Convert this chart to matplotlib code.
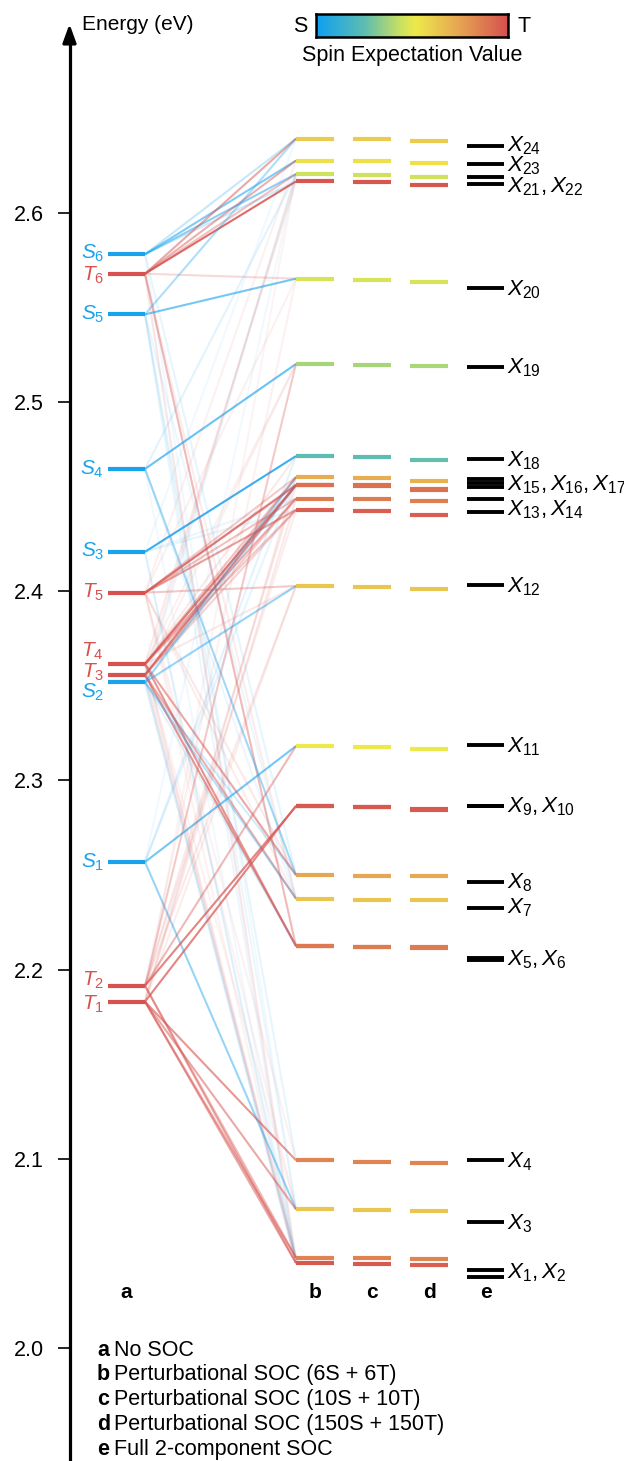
import numpy as np
import matplotlib
import matplotlib.pyplot as plt
from matplotlib.colors import LinearSegmentedColormap

matplotlib.use('agg')

plt.rcParams['font.family'] = ['Liberation Sans', 'DejaVu Sans']
plt.rcParams['mathtext.fontset'] = 'custom'
plt.rcParams['mathtext.it'] = 'Liberation Sans:italic'
plt.rcParams['mathtext.rm'] = 'Liberation Sans'
plt.rcParams['mathtext.bf'] = 'Liberation Sans:bold'

# no-SOC states (eV)
singlet_names = ['S1', 'S2', 'S3', 'S4', 'S5', 'S6']
singlet_energies = [2.2569, 2.3519, 2.4209, 2.4647, 2.5464, 2.5782]
triplet_names = ['T1', 'T2', 'T3', 'T4', 'T5', 'T6']
triplet_energies = [2.1831, 2.1915, 2.3558, 2.3616, 2.3993, 2.5679]

# mixed states X1..X24, perturbational SOC (6S + 6T)
pert6_energies = [2.0449, 2.0477, 2.0733, 2.0992, 2.2123, 2.2127, 2.2375, 2.2500,
                  2.2863, 2.2867, 2.3182, 2.4028, 2.4430, 2.4490, 2.4560, 2.4564,
                  2.4604, 2.4715, 2.5202, 2.5653, 2.6167, 2.6206, 2.6277, 2.6393]
pert6_spin = [0.97, 0.85, 0.64, 0.84, 0.88, 0.88, 0.64, 0.74, 0.97, 0.97, 0.52, 0.64,
              0.96, 0.87, 0.90, 0.90, 0.72, 0.25, 0.38, 0.47, 0.98, 0.45, 0.55, 0.62]
# perturbational SOC (10S + 10T)
pert10_energies = [2.0444, 2.0474, 2.0728, 2.0983, 2.2118, 2.2122, 2.2370, 2.2497,
                   2.2858, 2.2862, 2.3179, 2.4024, 2.4425, 2.4486, 2.4556, 2.4560,
                   2.4601, 2.4712, 2.5197, 2.5644, 2.6164, 2.6202, 2.6275, 2.6390]
pert10_spin = [0.97, 0.85, 0.64, 0.84, 0.87, 0.87, 0.64, 0.74, 0.97, 0.97, 0.52, 0.64,
               0.96, 0.87, 0.90, 0.90, 0.72, 0.25, 0.38, 0.47, 0.98, 0.45, 0.55, 0.62]
# perturbational SOC (150S + 150T)
pert150_energies = [2.0439, 2.0469, 2.0724, 2.0978, 2.2114, 2.2118, 2.2367, 2.2495,
                    2.2844, 2.2848, 2.3165, 2.4012, 2.4405, 2.4477, 2.4537, 2.4541,
                    2.4585, 2.4693, 2.5190, 2.5635, 2.6150, 2.6192, 2.6266, 2.6381]
pert150_spin = [0.96, 0.85, 0.64, 0.84, 0.87, 0.87, 0.64, 0.73, 0.97, 0.97, 0.52, 0.64,
                0.96, 0.86, 0.90, 0.90, 0.70, 0.26, 0.39, 0.47, 0.98, 0.45, 0.55, 0.62]
# full 2-component SOC
full_energies = [2.0377, 2.0412, 2.0664, 2.0994, 2.2053, 2.2059, 2.2326, 2.2463,
                 2.2863, 2.2867, 2.3188, 2.4032, 2.4421, 2.4488, 2.4550, 2.4571,
                 2.4592, 2.4698, 2.5186, 2.5605, 2.6152, 2.6192, 2.6257, 2.6353]

x_labels = ['$X_1, X_2$', '$X_3$', '$X_4$', '$X_5, X_6$', '$X_7$', '$X_8$', '$X_9, X_{10}$',
            '$X_{11}$', '$X_{12}$', '$X_{13}, X_{14}$', '$X_{15}, X_{16}, X_{17}$', '$X_{18}$',
            '$X_{19}$', '$X_{20}$', '$X_{21}, X_{22}$', '$X_{23}$', '$X_{24}$']
x_label_energies = [2.0396, 2.0656, 2.0983, 2.2051, 2.2326, 2.2458, 2.2860, 2.3177, 2.4023,
                    2.4430, 2.4562, 2.4689, 2.5181, 2.5593, 2.6137, 2.6248, 2.6354]

# contribution of no-SOC state to X_n (state, n, weight)
mixing = [
    ('S6', 23, 0.55), ('S6', 22, 0.5), ('S6', 24, 0.25), ('S6', 21, 0.2), ('S6', 8, 0.1), ('S6', 3, 0.06),
    ('T6', 21, 0.85), ('T6', 24, 0.5), ('T6', 23, 0.45), ('T6', 22, 0.35), ('T6', 20, 0.22),
    ('T6', 5, 0.3), ('T6', 6, 0.12), ('T6', 1, 0.08), ('T6', 2, 0.07), ('T6', 7, 0.1),
    ('S5', 20, 0.6), ('S5', 24, 0.35), ('S5', 4, 0.1), ('S5', 3, 0.08), ('S5', 1, 0.08), ('S5', 7, 0.08),
    ('S4', 19, 0.65), ('S4', 8, 0.4), ('S4', 7, 0.08), ('S4', 22, 0.12), ('S4', 1, 0.06),
    ('S3', 18, 0.85), ('S3', 13, 0.1), ('S3', 14, 0.08), ('S3', 1, 0.08), ('S3', 2, 0.08), ('S3', 24, 0.06),
    ('T5', 15, 0.55), ('T5', 16, 0.5), ('T5', 13, 0.55), ('T5', 14, 0.35), ('T5', 17, 0.3),
    ('T5', 12, 0.3), ('T5', 8, 0.12), ('T5', 7, 0.1), ('T5', 1, 0.07), ('T5', 4, 0.07), ('T5', 3, 0.07),
    ('T5', 23, 0.08), ('T5', 20, 0.08),
    ('T4', 15, 0.5), ('T4', 16, 0.45), ('T4', 14, 0.45), ('T4', 17, 0.35), ('T4', 13, 0.3),
    ('T4', 18, 0.12), ('T4', 8, 0.5), ('T4', 5, 0.6), ('T4', 12, 0.12), ('T4', 2, 0.08),
    ('T4', 1, 0.08), ('T4', 3, 0.07), ('T4', 21, 0.12), ('T4', 19, 0.08),
    ('T3', 15, 0.45), ('T3', 16, 0.4), ('T3', 14, 0.3), ('T3', 17, 0.3), ('T3', 13, 0.25),
    ('T3', 6, 0.6), ('T3', 7, 0.45), ('T3', 1, 0.08), ('T3', 2, 0.08), ('T3', 19, 0.08), ('T3', 22, 0.1),
    ('S2', 12, 0.45), ('S2', 7, 0.3), ('S2', 8, 0.2), ('S2', 5, 0.12), ('S2', 17, 0.3), ('S2', 15, 0.2),
    ('S2', 1, 0.12), ('S2', 2, 0.08), ('S2', 22, 0.08),
    ('S1', 11, 0.6), ('S1', 3, 0.45), ('S1', 18, 0.12), ('S1', 17, 0.1), ('S1', 22, 0.06),
    ('T2', 9, 0.7), ('T2', 11, 0.4), ('T2', 19, 0.3), ('T2', 1, 0.45), ('T2', 2, 0.4),
    ('T2', 12, 0.12), ('T2', 15, 0.12), ('T2', 13, 0.1), ('T2', 20, 0.08),
    ('T1', 10, 0.7), ('T1', 4, 0.6), ('T1', 3, 0.5), ('T1', 1, 0.5), ('T1', 2, 0.5),
    ('T1', 17, 0.12), ('T1', 14, 0.12), ('T1', 12, 0.1), ('T1', 22, 0.06),
]

legend_keys = ['a', 'b', 'c', 'd', 'e']
legend_texts = ['No SOC', 'Perturbational SOC (6S + 6T)', 'Perturbational SOC (10S + 10T)',
                'Perturbational SOC (150S + 150T)', 'Full 2-component SOC']

S_COLOR = '#19a2ee'
T_COLOR = '#d7524e'
cmap = LinearSegmentedColormap.from_list('spin', [(0.0, '#0ea0f2'), (0.25, '#5dbdb2'),
                                                  (0.45, '#cfe25e'), (0.52, '#eee94a'),
                                                  (0.75, '#e6a453'), (1.0, '#d6504f')])

W, H = 624, 1461
px_per_ev = 1891.7
e0_px = 1348  # pixel row of 2.0 eV


def px2ev(y):
    return 2.0 + (e0_px - y) / px_per_ev


cols = {'a': (108, 145), 'b': (296, 334), 'c': (353, 391), 'd': (410, 448), 'e': (467, 504)}

fig = plt.figure(figsize=(W / 100, H / 100), dpi=100)
ax = fig.add_axes([0, 0, 1, 1])
ax.set_xlim(0, W)
ax.set_ylim(px2ev(H), px2ev(0))

# mixing lines
a_energy = dict(zip(singlet_names + triplet_names, singlet_energies + triplet_energies))
for name, n, w in mixing:
    c = S_COLOR if name[0] == 'S' else T_COLOR
    ax.plot([cols['a'][1], cols['b'][0]], [a_energy[name], pert6_energies[n - 1]],
            color=c, alpha=w, lw=1.5, solid_capstyle='butt', zorder=1)

# no-SOC levels
label_shift = {'S6': -1, 'T6': 2, 'T4': -13, 'T3': -3, 'S2': 10, 'T2': -5, 'T1': 3}
for names, energies, c in [(singlet_names, singlet_energies, S_COLOR),
                           (triplet_names, triplet_energies, T_COLOR)]:
    for name, e in zip(names, energies):
        ax.plot(cols['a'], [e, e], color=c, lw=3, solid_capstyle='butt', zorder=3)
        ax.annotate('$%s_%s$' % (name[0], name[1]), (104, e), xytext=(0, -label_shift.get(name, 0)),
                    textcoords='offset pixels', ha='right', va='center', color=c, fontsize=15)

# SOC levels
for key, energies, spins in [('b', pert6_energies, pert6_spin),
                             ('c', pert10_energies, pert10_spin),
                             ('d', pert150_energies, pert150_spin)]:
    for e, s in zip(energies, spins):
        ax.plot(cols[key], [e, e], color=cmap(s), lw=3, solid_capstyle='butt', zorder=3)
for e in full_energies:
    ax.plot(cols['e'], [e, e], color='black', lw=2.8, solid_capstyle='butt', zorder=3)
for lab, e in zip(x_labels, x_label_energies):
    ax.text(507, e, lab, ha='left', va='center', fontsize=16)

# column letters
letter_x = [126, 315, 372, 429, 486]
for k, x in zip(legend_keys, letter_x):
    ax.text(x, px2ev(1292), k, ha='center', va='center', fontsize=15, fontweight='bold')

# energy axis
for s in ['top', 'right', 'bottom']:
    ax.spines[s].set_visible(False)
ax.spines['left'].set_position(('data', 69.5))
ax.spines['left'].set_linewidth(2.3)
ax.spines['left'].set_bounds(px2ev(H), px2ev(33))
ax.set_yticks([2.0, 2.1, 2.2, 2.3, 2.4, 2.5, 2.6])
ax.set_yticklabels(['2.0', '2.1', '2.2', '2.3', '2.4', '2.5', '2.6'])
ax.tick_params(axis='y', direction='out', length=8.5, width=1.2, pad=10, labelsize=15.5)
ax.set_xticks([])
ax.annotate('', xy=(69.5, px2ev(24)), xytext=(69.5, px2ev(40)),
            arrowprops=dict(arrowstyle='-|>, head_length=0.55, head_width=0.2', color='black',
                            lw=2.3, mutation_scale=20, shrinkA=0, shrinkB=0))
fig.text(82 / W, 1 - 25 / H, 'Energy (eV)', ha='left', va='center', fontsize=15)

# colorbar
cax = fig.add_axes([316 / W, 1 - 37 / H, 192 / W, 23 / H])
cax.imshow(np.linspace(0, 1, 256)[None, :], aspect='auto', cmap=cmap, extent=[0, 1, 0, 1])
cax.set_xticks([])
cax.set_yticks([])
for s in cax.spines.values():
    s.set_linewidth(1.8)
fig.text(300 / W, 1 - 26 / H, 'S', ha='center', va='center', fontsize=15.5)
fig.text(524 / W, 1 - 26 / H, 'T', ha='center', va='center', fontsize=15.5)
fig.text(412 / W, 1 - 55 / H, 'Spin Expectation Value', ha='center', va='center', fontsize=15.5)

# legend
for i, (k, t) in enumerate(zip(legend_keys, legend_texts)):
    y = 1 - (1350 + 24.8 * i) / H
    fig.text(97 / W, y, k, ha='left', va='center', fontsize=15.5, fontweight='bold')
    fig.text(114 / W, y, t, ha='left', va='center', fontsize=15.5)

fig.savefig('out.png', dpi=100)
